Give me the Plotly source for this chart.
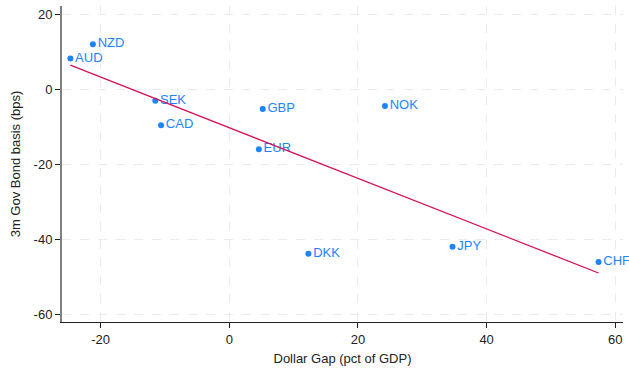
import numpy as np
import plotly.graph_objects as go

# Currency-level observations
currencies = ["NZD", "AUD", "SEK", "CAD", "GBP", "EUR", "NOK", "DKK", "JPY", "CHF"]
dollar_gap = [-21.2, -24.7, -11.5, -10.6, 5.2, 4.6, 24.2, 12.3, 34.7, 57.4]
bond_basis = [12.0, 8.2, -3.1, -9.6, -5.3, -16.0, -4.45, -43.9, -42.0, -46.1]

x_ticks = [-20, 0, 20, 40, 60]
x_tick_labels = ["-20", "0", "20", "40", "60"]
y_ticks = [-60, -40, -20, 0, 20]
y_tick_labels = ["-60", "-40", "-20", "0", "20"]

# Linear fit over the observed range
slope, intercept = np.polyfit(dollar_gap, bond_basis, 1)
fit_x = np.array([min(dollar_gap), max(dollar_gap)])
fit_y = slope * fit_x + intercept

fig = go.Figure()
fig.add_trace(go.Scatter(
    x=dollar_gap, y=bond_basis, mode="markers+text",
    text=currencies, textposition="middle right",
    marker=dict(color="#1a85ff", size=6),
    textfont=dict(color="#1a85ff", size=13, family="Liberation Sans, Arial"),
    cliponaxis=False, showlegend=False,
))
fig.add_trace(go.Scatter(
    x=fit_x, y=fit_y, mode="lines",
    line=dict(color="#d41159", width=1.3), showlegend=False,
))

fig.update_layout(
    width=629, height=371,
    margin=dict(l=62, r=6, t=6, b=49),
    paper_bgcolor="white", plot_bgcolor="white",
    font=dict(family="Liberation Sans, Arial", size=13, color="#222222"),
)
fig.update_xaxes(
    range=[-26.0, 61.2], tickvals=x_ticks, ticktext=x_tick_labels,
    showgrid=True, gridcolor="#ebebeb", griddash="dash", gridwidth=1,
    zeroline=False, showline=True, linecolor="#222222", linewidth=1,
    ticks="outside", ticklen=5, tickcolor="#222222",
    title=dict(text="Dollar Gap (pct of GDP)", font=dict(size=13), standoff=8),
)
fig.update_yaxes(
    range=[-62.1, 22.2], tickvals=y_ticks, ticktext=y_tick_labels,
    showgrid=True, gridcolor="#ebebeb", griddash="dash", gridwidth=1,
    zeroline=False, showline=True, linecolor="#808080", linewidth=2,
    ticks="outside", ticklen=5, tickcolor="#222222",
    title=dict(text="3m Gov Bond basis (bps)", font=dict(size=13), standoff=10),
)

fig.write_html("out.html")
